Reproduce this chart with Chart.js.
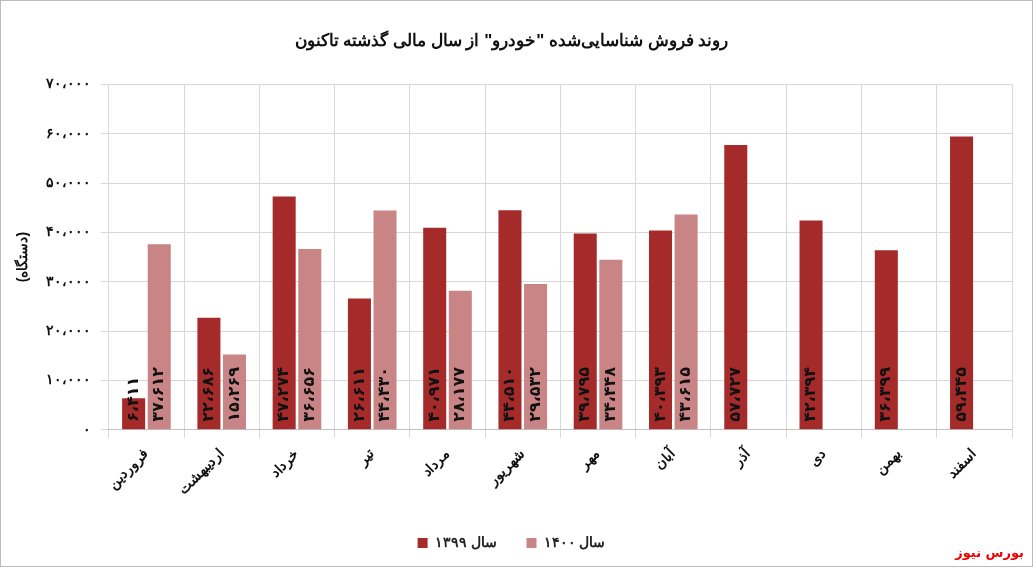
<!DOCTYPE html>
<html><head><meta charset="utf-8">
<script src="https://cdn.jsdelivr.net/npm/chart.js@4"></script>
<style>
body{margin:0;background:#fff;font-family:"DejaVu Sans",sans-serif}
#wrap{position:relative;width:1031px;height:565px;border:1px solid #bbb}
#src{position:absolute;right:8px;bottom:6px;color:#e00;font:bold 13px "DejaVu Sans";direction:rtl}
</style></head><body>
<div id="wrap"><canvas id="c" width="1031" height="565"></canvas><div id="src">بورس نیوز</div></div>
<script>
const months = ["فروردین","اردیبهشت","خرداد","تیر","مرداد","شهریور","مهر","آبان","آذر","دی","بهمن","اسفند"];
const sales1399 = [6411,22686,47274,26611,40971,44510,39795,40393,57727,42394,36399,59445];
const sales1400 = [37612,15269,36656,44430,28177,29532,34448,43615,null,null,null,null];

const fa = n => n.toLocaleString("en-US").replace(/,/g,"،").replace(/\d/g,d=>"۰۱۲۳۴۵۶۷۸۹"[d]);

const valueLabels = {
  id:"valueLabels",
  afterDatasetsDraw(chart){
    const ctx = chart.ctx;
    ctx.save();
    ctx.font = "bold 16px 'DejaVu Sans'";
    ctx.fillStyle = "#111";
    ctx.textAlign = "left";
    ctx.textBaseline = "middle";
    const base = chart.scales.y.getPixelForValue(0);
    chart.data.datasets.forEach((ds,i)=>{
      chart.getDatasetMeta(i).data.forEach((bar,j)=>{
        const v = ds.data[j];
        if (v == null) return;
        ctx.save();
        ctx.translate(bar.x, base - 8);
        ctx.rotate(-Math.PI/2);
        ctx.fillText(fa(v), 0, 0);
        ctx.restore();
      });
    });
    ctx.restore();
  }
};

new Chart(document.getElementById("c"), {
  type:"bar",
  data:{labels:months, datasets:[
    {label:"سال ۱۳۹۹", data:sales1399, backgroundColor:"#a52a2a", categoryPercentage:0.68, barPercentage:0.9},
    {label:"سال ۱۴۰۰", data:sales1400, backgroundColor:"#c98585", categoryPercentage:0.68, barPercentage:0.9}
  ]},
  options:{
    responsive:false, animation:false,
    layout:{padding:{left:10,right:20,top:10,bottom:6}},
    plugins:{
      title:{display:true, text:'روند فروش شناسایی‌شده "خودرو" از سال مالی گذشته تاکنون', font:{size:17,weight:"bold"}, color:"#111", padding:{top:20,bottom:33}},
      legend:{position:"bottom", labels:{boxWidth:10,boxHeight:10,font:{size:14,weight:"bold"},color:"#222",padding:30}},
      tooltip:{enabled:false}
    },
    scales:{
      x:{grid:{color:"#d8d8d8",offset:true}, ticks:{maxRotation:45,minRotation:45,font:{size:14,weight:"bold"},color:"#111",padding:8}},
      y:{min:0,max:70000, ticks:{stepSize:10000,callback:v=>fa(v),font:{size:14,weight:"bold"},color:"#111",padding:10},
         grid:{color:"#d8d8d8"}, border:{display:false},
         title:{display:true,text:"(دستگاه)",font:{size:14,weight:"bold"},color:"#111"}}
    }
  },
  plugins:[valueLabels]
});
</script></body></html>
